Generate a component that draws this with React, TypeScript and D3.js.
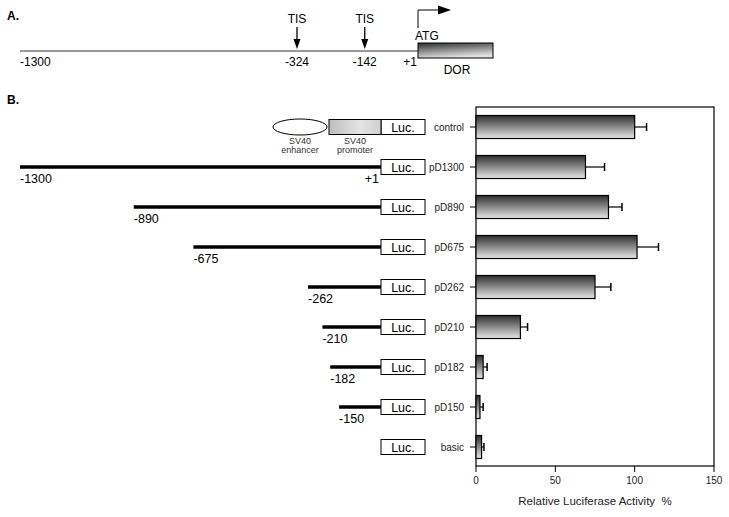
import React from 'react'
import * as d3 from 'd3'

// panel B data
const constructs = ['control', 'pD1300', 'pD890', 'pD675', 'pD262', 'pD210', 'pD182', 'pD150', 'basic']
const activity = [100, 69, 83.5, 101.5, 75, 28, 4.5, 2.5, 3.5]
const activityErr = [7.5, 12, 8.5, 13.5, 10, 4.5, 2.5, 2, 1.5]
const startBp = [null, -1300, -890, -675, -262, -210, -182, -150, null]
const xTicks = [0, 50, 100, 150]

// panel A
const tisSites = [-324, -142]

const font = '"Liberation Sans", Arial, Helvetica, sans-serif'

export default function App() {
  const width = 729
  const height = 517

  // bar chart scales
  const x = d3.scaleLinear().domain([0, 150]).range([476, 714])
  const y = d3.scaleBand().domain(constructs).range([107, 467]).paddingInner(0.4).paddingOuter(0.2)
  const rowY = (c: string) => (y(c) as number) + y.bandwidth() / 2

  // promoter map scales (schematic, not to scale)
  const bpA = d3.scaleLinear().domain([-1300, -324, 1]).range([20, 297, 418])
  const bpB = d3.scaleLinear().domain([-1300, 1]).range([20, 381])

  const lucX = 381
  const lucW = 44
  const lucH = 15

  return (
    <div style={{ position: 'absolute', left: 0, top: 0 }}>
      <svg width={width} height={height} style={{ display: 'block', background: '#fff' }} fontFamily={font}>
        <defs>
          <linearGradient id="barGrad" x1="0" y1="0" x2="0" y2="1">
            <stop offset="0%" stopColor="#2e2e2e" />
            <stop offset="100%" stopColor="#e8e8e8" />
          </linearGradient>
          <linearGradient id="dorGrad" x1="0" y1="0" x2="0.3" y2="1">
            <stop offset="0%" stopColor="#2e2e2e" />
            <stop offset="100%" stopColor="#e0e0e0" />
          </linearGradient>
          <linearGradient id="promGrad" x1="0" y1="0" x2="1" y2="0">
            <stop offset="0%" stopColor="#bdbdbd" />
            <stop offset="60%" stopColor="#e4e4e4" />
            <stop offset="100%" stopColor="#cfcfcf" />
          </linearGradient>
        </defs>

        {/* ---------- Panel A ---------- */}
        <text x={7} y={20} fontSize={12} fontWeight="bold">A.</text>
        <line x1={bpA(-1300)} x2={bpA(1)} y1={51} y2={51} stroke="#999" strokeWidth={2} />
        <text x={bpA(-1300)} y={66} fontSize={12}>-1300</text>
        {tisSites.map(s => (
          <g key={s}>
            <text x={bpA(s)} y={23} fontSize={12} textAnchor="middle">TIS</text>
            <line x1={bpA(s)} x2={bpA(s)} y1={27} y2={40} stroke="#000" strokeWidth={1.3} />
            <path d={`M${bpA(s) - 3.5},39 L${bpA(s) + 3.5},39 L${bpA(s)},49 Z`} fill="#000" />
            <text x={bpA(s)} y={66} fontSize={12} textAnchor="middle">{s}</text>
          </g>
        ))}
        <text x={bpA(1) - 1} y={66} fontSize={12} textAnchor="end">+1</text>
        {/* transcription start arrow */}
        <path d={`M${bpA(1)},28 L${bpA(1)},10 L${bpA(1) + 22},10`} fill="none" stroke="#000" strokeWidth={1} />
        <path d={`M${bpA(1) + 20},5.5 L${bpA(1) + 33},10 L${bpA(1) + 20},14.5 Z`} fill="#000" />
        <text x={bpA(1) - 3} y={40} fontSize={12}>ATG</text>
        <rect x={bpA(1)} y={43} width={75} height={15} fill="url(#dorGrad)" stroke="#000" strokeWidth={1} />
        <text x={bpA(1) + 39} y={74} fontSize={12} textAnchor="middle">DOR</text>

        {/* ---------- Panel B ---------- */}
        <text x={7} y={104} fontSize={12} fontWeight="bold">B.</text>

        {constructs.map((c, i) => {
          const cy = rowY(c)
          const s = startBp[i]
          return (
            <g key={c}>
              {s !== null && (
                <>
                  <line x1={bpB(s)} x2={lucX} y1={cy} y2={cy} stroke="#000" strokeWidth={3.5} />
                  <text x={bpB(s)} y={cy + 16} fontSize={12.5}>{s}</text>
                </>
              )}
              <rect x={lucX} y={cy - lucH / 2} width={lucW} height={lucH} fill="#fff" stroke="#000" strokeWidth={1} />
              <text x={lucX + lucW / 2} y={cy + 4.5} fontSize={12.5} textAnchor="middle">Luc.</text>
              <text x={464} y={cy + 3.5} fontSize={10} textAnchor="end" fill="#222">{c}</text>
            </g>
          )
        })}

        {/* SV40 elements on control row */}
        <ellipse cx={300} cy={rowY('control')} rx={27} ry={8} fill="#fff" stroke="#000" strokeWidth={1} />
        <rect x={329} y={rowY('control') - lucH / 2} width={lucX - 329} height={lucH} fill="url(#promGrad)" stroke="#000" strokeWidth={1} />
        <text x={300} y={144} fontSize={9} textAnchor="middle" fill="#333">SV40</text>
        <text x={300} y={153} fontSize={9} textAnchor="middle" fill="#333">enhancer</text>
        <text x={355} y={144} fontSize={9} textAnchor="middle" fill="#333">SV40</text>
        <text x={355} y={153} fontSize={9} textAnchor="middle" fill="#333">promoter</text>
        <text x={379} y={183} fontSize={12.5} textAnchor="end">+1</text>

        {/* plot frame */}
        <rect x={x(0)} y={107} width={x(150) - x(0)} height={466 - 107} fill="none" stroke="#000" strokeWidth={1.2} />

        {constructs.map((c, i) => {
          const cy = rowY(c)
          const bh = 23
          const xe = x(activity[i] + activityErr[i])
          return (
            <g key={c}>
              <line x1={x(0) - 6} x2={x(0)} y1={cy} y2={cy} stroke="#000" strokeWidth={1} />
              <line x1={x(activity[i])} x2={xe} y1={cy} y2={cy} stroke="#000" strokeWidth={1.2} />
              <line x1={xe} x2={xe} y1={cy - 4} y2={cy + 4} stroke="#000" strokeWidth={1.5} />
              <rect x={x(0)} y={cy - bh / 2} width={x(activity[i]) - x(0)} height={bh} fill="url(#barGrad)" stroke="#000" strokeWidth={1.2} />
            </g>
          )
        })}

        {xTicks.map(t => (
          <g key={t}>
            <line x1={x(t)} x2={x(t)} y1={466} y2={472} stroke="#000" strokeWidth={1} />
            <text x={x(t)} y={484} fontSize={10} textAnchor="middle" fill="#222">{t}</text>
          </g>
        ))}
        <text x={595} y={505} fontSize={11.5} textAnchor="middle" fill="#222">{'Relative Luciferase Activity\u00a0\u00a0%'}</text>
      </svg>
    </div>
  )
}
